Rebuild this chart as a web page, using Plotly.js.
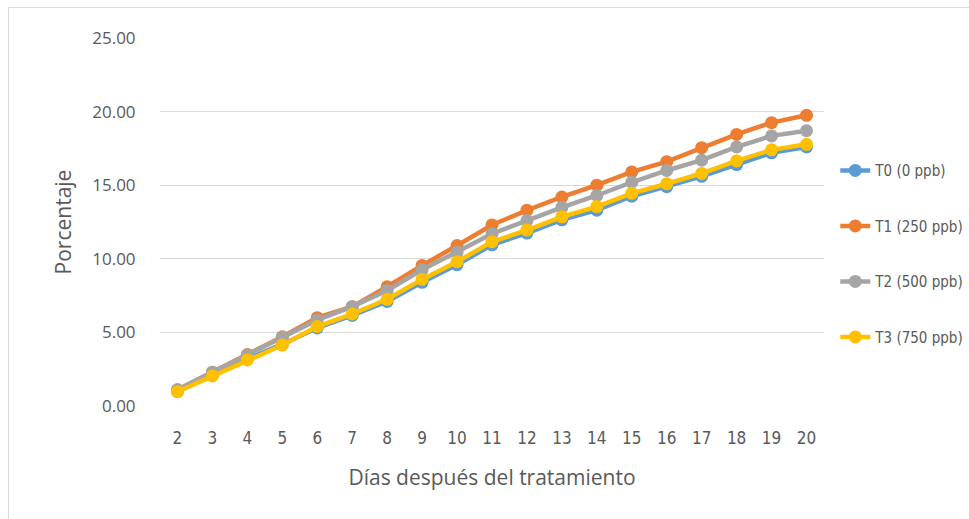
<!DOCTYPE html>
<html>
<head>
<meta charset="utf-8">
<script src="https://cdn.plot.ly/plotly-3.0.1.min.js"></script>
<style>
html,body{margin:0;padding:0;background:#fff;}
#wrap{position:relative;width:969px;height:519px;}
#frame{position:absolute;left:8px;top:7px;width:980px;height:530px;border-left:1px solid #D9D9D9;border-top:1px solid #D9D9D9;pointer-events:none;z-index:5;}
#chart{position:absolute;left:0;top:0;width:969px;height:519px;}
</style>
</head>
<body>
<div id="wrap"><div id="chart"></div><div id="frame"></div></div>
<script>
const days = ["2","3","4","5","6","7","8","9","10","11","12","13","14","15","16","17","18","19","20"];
const seriesNames = ["T0 (0 ppb)","T1 (250 ppb)","T2 (500 ppb)","T3 (750 ppb)"];
const t0 = [1.00,2.10,3.20,4.20,5.30,6.15,7.10,8.40,9.60,10.95,11.75,12.65,13.30,14.25,14.90,15.60,16.40,17.20,17.60];
const t1 = [1.10,2.30,3.50,4.70,6.00,6.75,8.10,9.55,10.90,12.30,13.30,14.20,15.00,15.90,16.60,17.55,18.45,19.25,19.75];
const t2 = [1.10,2.30,3.45,4.65,5.85,6.75,7.85,9.25,10.45,11.70,12.60,13.50,14.30,15.20,16.00,16.70,17.60,18.35,18.70];
const t3 = [0.97,2.04,3.13,4.14,5.40,6.25,7.25,8.60,9.80,11.15,11.95,12.85,13.55,14.45,15.10,15.80,16.65,17.40,17.78];
const colors = ["#5B9BD5","#ED7D31","#A5A5A5","#FFC000"];
const vals = [t0,t1,t2,t3];

const traces = vals.map((v,i)=>({
  x: days, y: v, type:"scatter", mode:"lines+markers",
  name: seriesNames[i], legendgroup: "g"+i,
  line:{color:colors[i], width:4.5},
  marker:{color:colors[i], size:13}
}));

const layout = {
  width:969, height:519,
  margin:{l:160, r:145, t:38, b:113},
  paper_bgcolor:"#fff", plot_bgcolor:"#fff",
  font:{family:"Open Sans, Liberation Sans, sans-serif", color:"#595959", size:15},
  xaxis:{
    type:"category", automargin:false, showgrid:false, zeroline:false, showline:false,
    range:[-0.5,18.5],
    ticks:"outside", ticklen:17, tickcolor:"rgba(0,0,0,0)",
    tickfont:{size:17, family:"DejaVu Sans Condensed, Open Sans, sans-serif", color:"#595959"},
    title:{text:"Días después del tratamiento", font:{size:21, family:"Open Sans, sans-serif", color:"#595959"}, standoff:22}
  },
  yaxis:{
    automargin:false, range:[0,25], dtick:5, tickformat:".2f", showgrid:true, gridcolor:"#D9D9D9", gridwidth:1.3,
    zeroline:false, showline:false, ticks:"outside", ticklen:20, tickcolor:"rgba(0,0,0,0)",
    tickfont:{size:17, color:"#595959"},
    title:{text:"Porcentaje", font:{size:21, color:"#595959"}, standoff:14}
  },
  showlegend:true,
  legend:{
    xref:"container", yref:"container",
    x:0.862, xanchor:"left", y:0.703, yanchor:"top",
    font:{size:15, family:"DejaVu Sans Condensed, Liberation Sans Narrow, sans-serif", color:"#595959"},
    tracegroupgap:33, traceorder:"grouped", bgcolor:"rgba(0,0,0,0)", itemwidth:30
  }
};
Plotly.newPlot("chart", traces, layout, {displayModeBar:false, staticPlot:true});
</script>
</body>
</html>
